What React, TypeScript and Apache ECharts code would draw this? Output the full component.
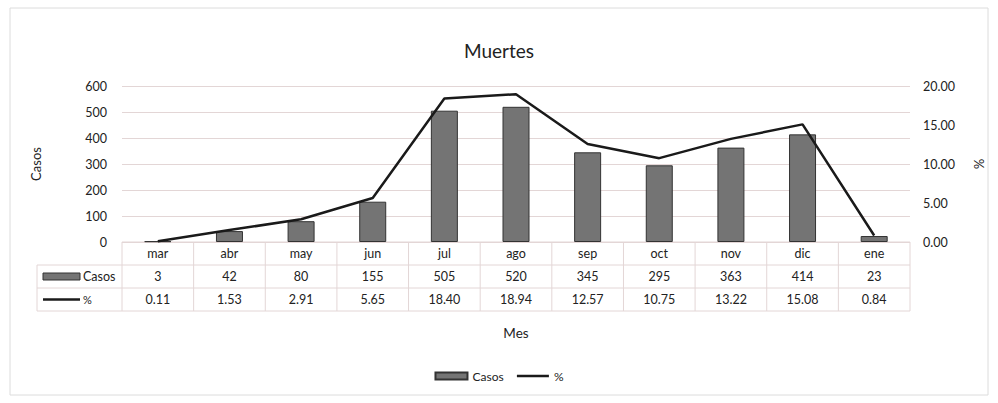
import React, { useEffect, useRef } from "react";
import * as echarts from "echarts";

const months = ["mar", "abr", "may", "jun", "jul", "ago", "sep", "oct", "nov", "dic", "ene"];
const casos = [3, 42, 80, 155, 505, 520, 345, 295, 363, 414, 23];
const pct = [0.11, 1.53, 2.91, 5.65, 18.4, 18.94, 12.57, 10.75, 13.22, 15.08, 0.84];
const leftTicks = [0, 100, 200, 300, 400, 500, 600];
const rightTicks = [0, 5, 10, 15, 20];

const W = 998;
const H = 403;
const GL = 122;
const GR = 910;
const GT = 86;
const GB = 242;
const ROW = 23;
const KEY_L = 37;
const FONT = "Lato, 'Open Sans', sans-serif";
const LINE_C = "#e3d6d6";

export default function App() {
  const ref = useRef<HTMLDivElement>(null);
  useEffect(() => {
    if (!ref.current) return;
    const chart = echarts.init(ref.current, null, { renderer: "svg" });
    const n = months.length;
    const cw = (GR - GL) / n;
    const graphics: any[] = [];
    const ln = (x1: number, y1: number, x2: number, y2: number) =>
      graphics.push({
        type: "line",
        shape: { x1, y1, x2, y2 },
        style: { stroke: LINE_C, lineWidth: 1 },
        silent: true,
      });
    // table lines
    ln(GL, GB, GR, GB);
    ln(KEY_L, GB + ROW, GR, GB + ROW);
    ln(KEY_L, GB + 2 * ROW, GR, GB + 2 * ROW);
    ln(KEY_L, GB + 3 * ROW, GR, GB + 3 * ROW);
    for (let i = 0; i <= n; i++) ln(GL + i * cw, GB, GL + i * cw, GB + 3 * ROW);
    ln(KEY_L, GB + ROW, KEY_L, GB + 3 * ROW);
    // table legend keys
    graphics.push({
      type: "rect",
      shape: { x: 43, y: GB + ROW + ROW / 2 - 3.5, width: 37, height: 7 },
      style: { fill: "#747474", stroke: "#333", lineWidth: 1 },
    });
    graphics.push({
      type: "text",
      x: 83,
      y: GB + ROW + ROW / 2,
      style: { text: "Casos", fill: "#222", font: `12.5px ${FONT}`, verticalAlign: "middle" },
    });
    graphics.push({
      type: "line",
      shape: { x1: 43, y1: GB + 2 * ROW + ROW / 2, x2: 80, y2: GB + 2 * ROW + ROW / 2 },
      style: { stroke: "#1a1a1a", lineWidth: 2.5 },
    });
    graphics.push({
      type: "text",
      x: 83,
      y: GB + 2 * ROW + ROW / 2,
      style: { text: "%", fill: "#222", font: `11px ${FONT}`, verticalAlign: "middle" },
    });
    // frame
    graphics.push({
      type: "rect",
      shape: { x: 10, y: 8, width: 978, height: 387 },
      style: { fill: "none", stroke: "#dcdcdc", lineWidth: 1 },
      silent: true,
      z: -1,
    });

    const hiddenAxis = {
      type: "category" as const,
      data: months,
      position: "bottom" as const,
      axisLine: { show: false },
      axisTick: { show: false },
      splitLine: { show: false },
    };

    chart.setOption({
      animation: false,
      backgroundColor: "#ffffff",
      textStyle: { fontFamily: FONT },
      title: {
        text: "Muertes",
        left: "center",
        top: 36,
        textStyle: { fontSize: 19, fontWeight: "normal", color: "#222", fontFamily: FONT },
      },
      legend: {
        bottom: 16,
        left: "center",
        itemWidth: 32,
        itemHeight: 7,
        itemGap: 12,
        textStyle: { fontSize: 12, color: "#222", fontFamily: FONT },
        data: [
          { name: "Casos", icon: "rect" },
          { name: "%", itemStyle: { opacity: 0 }, lineStyle: { width: 2.5, color: "#1a1a1a" } },
        ],
      },
      grid: { left: GL, right: W - GR, top: GT, bottom: H - GB },
      xAxis: [
        {
          ...hiddenAxis,
          axisLabel: { margin: 5, fontSize: 12.5, color: "#222", fontFamily: FONT },
        },
        {
          ...hiddenAxis,
          offset: ROW,
          axisLabel: {
            margin: 5,
            fontSize: 12.5,
            color: "#222",
            fontFamily: FONT,
            formatter: (_: string, i: number) => String(casos[i]),
          },
        },
        {
          ...hiddenAxis,
          offset: 2 * ROW,
          name: "Mes",
          nameLocation: "middle",
          nameGap: 38,
          nameTextStyle: { fontSize: 13.5, color: "#222", fontFamily: FONT },
          axisLabel: {
            margin: 5,
            fontSize: 12.5,
            color: "#222",
            fontFamily: FONT,
            formatter: (_: string, i: number) => pct[i].toFixed(2),
          },
        },
      ],
      yAxis: [
        {
          type: "value",
          min: leftTicks[0],
          max: leftTicks[leftTicks.length - 1],
          interval: 100,
          name: "Casos",
          nameLocation: "middle",
          nameGap: 80,
          nameRotate: 90,
          nameTextStyle: { fontSize: 13, color: "#222", fontFamily: FONT },
          axisLabel: { fontSize: 12.5, color: "#222", margin: 15, fontFamily: FONT },
          axisLine: { show: false },
          axisTick: { show: false },
          splitLine: { lineStyle: { color: LINE_C, width: 1 } },
        },
        {
          type: "value",
          min: rightTicks[0],
          max: rightTicks[rightTicks.length - 1],
          interval: 5,
          name: "%",
          nameLocation: "middle",
          nameGap: 62,
          nameRotate: -90,
          nameTextStyle: { fontSize: 13, color: "#222", fontFamily: FONT },
          axisLabel: {
            fontSize: 12.5,
            color: "#222",
            margin: 13,
            fontFamily: FONT,
            formatter: (v: number) => v.toFixed(2),
          },
          axisLine: { show: false },
          axisTick: { show: false },
          splitLine: { show: false },
        },
      ],
      series: [
        {
          name: "Casos",
          type: "bar",
          xAxisIndex: 0,
          yAxisIndex: 0,
          data: casos,
          barWidth: 27,
          itemStyle: { color: "#747474", borderColor: "#333", borderWidth: 1 },
        },
        {
          name: "%",
          type: "line",
          xAxisIndex: 0,
          yAxisIndex: 1,
          data: pct,
          showSymbol: false,
          symbol: "none",
          lineStyle: { color: "#1a1a1a", width: 2.5 },
          itemStyle: { color: "#1a1a1a" },
        },
      ],
      graphic: graphics,
    });
    return () => chart.dispose();
  }, []);
  return (
    <div
      ref={ref}
      style={{ position: "fixed", left: 0, top: 0, width: W, height: H, background: "#fff" }}
    />
  );
}
